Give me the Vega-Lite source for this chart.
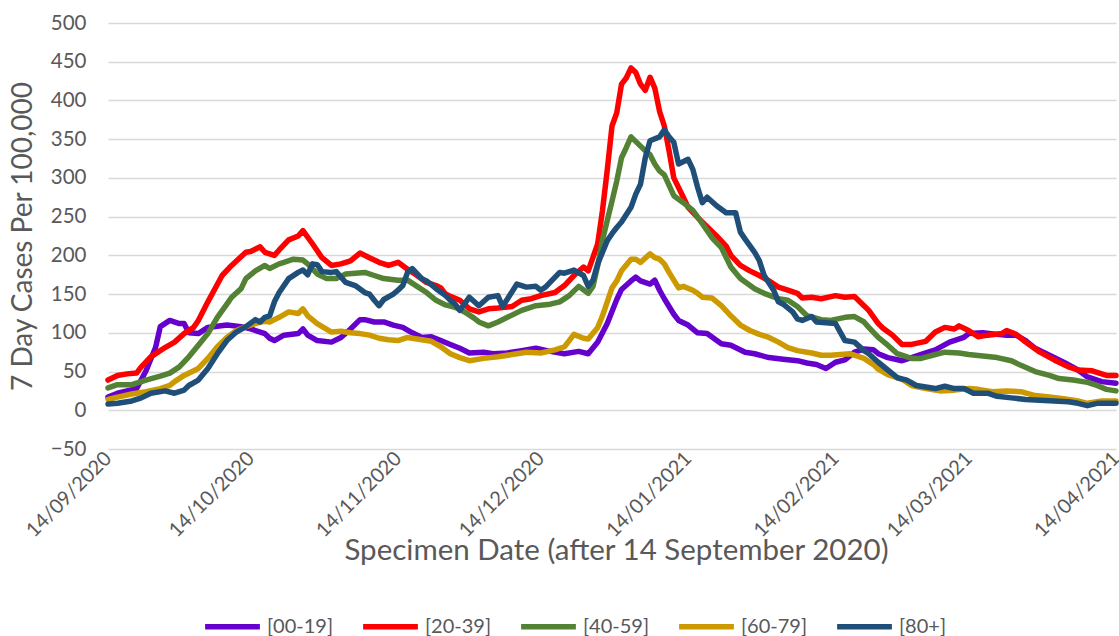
{
"$schema":"https://vega.github.io/schema/vega-lite/v6.json",
"width":1008,"height":426,
"autosize":{"type":"none"},
"padding":{"left":108,"top":23,"right":3,"bottom":187},
"background":"white",
"config":{"view":{"stroke":null},"font":"Lato"},
"data":{"values":[
{"s":"[00-19]","d":"2020-09-14","v":17},{"s":"[00-19]","d":"2020-09-16","v":22},{"s":"[00-19]","d":"2020-09-20","v":28},{"s":"[00-19]","d":"2020-09-22","v":51},{"s":"[00-19]","d":"2020-09-24","v":81},{"s":"[00-19]","d":"2020-09-25","v":108},{"s":"[00-19]","d":"2020-09-27","v":116},{"s":"[00-19]","d":"2020-09-29","v":112},{"s":"[00-19]","d":"2020-09-30","v":112},{"s":"[00-19]","d":"2020-10-01","v":100},{"s":"[00-19]","d":"2020-10-03","v":99},{"s":"[00-19]","d":"2020-10-05","v":107},{"s":"[00-19]","d":"2020-10-09","v":110},{"s":"[00-19]","d":"2020-10-12","v":108},{"s":"[00-19]","d":"2020-10-14","v":105},{"s":"[00-19]","d":"2020-10-17","v":99},{"s":"[00-19]","d":"2020-10-18","v":93},{"s":"[00-19]","d":"2020-10-19","v":90},{"s":"[00-19]","d":"2020-10-21","v":97},{"s":"[00-19]","d":"2020-10-24","v":99},{"s":"[00-19]","d":"2020-10-25","v":105},{"s":"[00-19]","d":"2020-10-26","v":97},{"s":"[00-19]","d":"2020-10-28","v":90},{"s":"[00-19]","d":"2020-10-31","v":88},{"s":"[00-19]","d":"2020-11-02","v":94},{"s":"[00-19]","d":"2020-11-04","v":105},{"s":"[00-19]","d":"2020-11-06","v":117},{"s":"[00-19]","d":"2020-11-07","v":117},{"s":"[00-19]","d":"2020-11-09","v":114},{"s":"[00-19]","d":"2020-11-11","v":114},{"s":"[00-19]","d":"2020-11-13","v":110},{"s":"[00-19]","d":"2020-11-15","v":107},{"s":"[00-19]","d":"2020-11-17","v":100},{"s":"[00-19]","d":"2020-11-19","v":94},{"s":"[00-19]","d":"2020-11-21","v":95},{"s":"[00-19]","d":"2020-11-23","v":90},{"s":"[00-19]","d":"2020-11-25","v":85},{"s":"[00-19]","d":"2020-11-27","v":80},{"s":"[00-19]","d":"2020-11-29","v":74},{"s":"[00-19]","d":"2020-12-02","v":75},{"s":"[00-19]","d":"2020-12-04","v":73},{"s":"[00-19]","d":"2020-12-07","v":74},{"s":"[00-19]","d":"2020-12-10","v":77},{"s":"[00-19]","d":"2020-12-13","v":80},{"s":"[00-19]","d":"2020-12-16","v":76},{"s":"[00-19]","d":"2020-12-19","v":73},{"s":"[00-19]","d":"2020-12-22","v":76},{"s":"[00-19]","d":"2020-12-24","v":73},{"s":"[00-19]","d":"2020-12-26","v":88},{"s":"[00-19]","d":"2020-12-28","v":112},{"s":"[00-19]","d":"2020-12-30","v":143},{"s":"[00-19]","d":"2020-12-31","v":156},{"s":"[00-19]","d":"2021-01-02","v":167},{"s":"[00-19]","d":"2021-01-03","v":172},{"s":"[00-19]","d":"2021-01-04","v":167},{"s":"[00-19]","d":"2021-01-06","v":163},{"s":"[00-19]","d":"2021-01-07","v":168},{"s":"[00-19]","d":"2021-01-08","v":155},{"s":"[00-19]","d":"2021-01-09","v":144},{"s":"[00-19]","d":"2021-01-11","v":124},{"s":"[00-19]","d":"2021-01-12","v":116},{"s":"[00-19]","d":"2021-01-14","v":110},{"s":"[00-19]","d":"2021-01-16","v":100},{"s":"[00-19]","d":"2021-01-18","v":99},{"s":"[00-19]","d":"2021-01-21","v":86},{"s":"[00-19]","d":"2021-01-23","v":84},{"s":"[00-19]","d":"2021-01-26","v":75},{"s":"[00-19]","d":"2021-01-28","v":73},{"s":"[00-19]","d":"2021-01-31","v":68},{"s":"[00-19]","d":"2021-02-03","v":66},{"s":"[00-19]","d":"2021-02-06","v":64},{"s":"[00-19]","d":"2021-02-08","v":61},{"s":"[00-19]","d":"2021-02-10","v":59},{"s":"[00-19]","d":"2021-02-12","v":54},{"s":"[00-19]","d":"2021-02-14","v":62},{"s":"[00-19]","d":"2021-02-16","v":65},{"s":"[00-19]","d":"2021-02-18","v":75},{"s":"[00-19]","d":"2021-02-20","v":79},{"s":"[00-19]","d":"2021-02-22","v":78},{"s":"[00-19]","d":"2021-02-23","v":73},{"s":"[00-19]","d":"2021-02-25","v":68},{"s":"[00-19]","d":"2021-02-28","v":64},{"s":"[00-19]","d":"2021-03-02","v":68},{"s":"[00-19]","d":"2021-03-05","v":74},{"s":"[00-19]","d":"2021-03-07","v":78},{"s":"[00-19]","d":"2021-03-10","v":88},{"s":"[00-19]","d":"2021-03-13","v":94},{"s":"[00-19]","d":"2021-03-14","v":99},{"s":"[00-19]","d":"2021-03-17","v":100},{"s":"[00-19]","d":"2021-03-20","v":98},{"s":"[00-19]","d":"2021-03-22","v":97},{"s":"[00-19]","d":"2021-03-24","v":97},{"s":"[00-19]","d":"2021-03-26","v":90},{"s":"[00-19]","d":"2021-03-28","v":80},{"s":"[00-19]","d":"2021-03-31","v":71},{"s":"[00-19]","d":"2021-04-03","v":62},{"s":"[00-19]","d":"2021-04-06","v":52},{"s":"[00-19]","d":"2021-04-08","v":43},{"s":"[00-19]","d":"2021-04-11","v":37},{"s":"[00-19]","d":"2021-04-14","v":35},
{"s":"[20-39]","d":"2020-09-14","v":39},{"s":"[20-39]","d":"2020-09-16","v":45},{"s":"[20-39]","d":"2020-09-18","v":47},{"s":"[20-39]","d":"2020-09-20","v":48},{"s":"[20-39]","d":"2020-09-21","v":56},{"s":"[20-39]","d":"2020-09-23","v":69},{"s":"[20-39]","d":"2020-09-26","v":81},{"s":"[20-39]","d":"2020-09-28","v":88},{"s":"[20-39]","d":"2020-09-30","v":99},{"s":"[20-39]","d":"2020-10-02","v":107},{"s":"[20-39]","d":"2020-10-03","v":116},{"s":"[20-39]","d":"2020-10-05","v":140},{"s":"[20-39]","d":"2020-10-08","v":174},{"s":"[20-39]","d":"2020-10-10","v":187},{"s":"[20-39]","d":"2020-10-13","v":204},{"s":"[20-39]","d":"2020-10-14","v":205},{"s":"[20-39]","d":"2020-10-16","v":211},{"s":"[20-39]","d":"2020-10-17","v":204},{"s":"[20-39]","d":"2020-10-19","v":200},{"s":"[20-39]","d":"2020-10-20","v":207},{"s":"[20-39]","d":"2020-10-22","v":220},{"s":"[20-39]","d":"2020-10-24","v":225},{"s":"[20-39]","d":"2020-10-25","v":232},{"s":"[20-39]","d":"2020-10-27","v":215},{"s":"[20-39]","d":"2020-10-29","v":197},{"s":"[20-39]","d":"2020-10-31","v":187},{"s":"[20-39]","d":"2020-11-02","v":189},{"s":"[20-39]","d":"2020-11-04","v":193},{"s":"[20-39]","d":"2020-11-06","v":203},{"s":"[20-39]","d":"2020-11-08","v":197},{"s":"[20-39]","d":"2020-11-10","v":191},{"s":"[20-39]","d":"2020-11-12","v":187},{"s":"[20-39]","d":"2020-11-14","v":191},{"s":"[20-39]","d":"2020-11-16","v":182},{"s":"[20-39]","d":"2020-11-18","v":174},{"s":"[20-39]","d":"2020-11-20","v":165},{"s":"[20-39]","d":"2020-11-22","v":161},{"s":"[20-39]","d":"2020-11-23","v":158},{"s":"[20-39]","d":"2020-11-24","v":150},{"s":"[20-39]","d":"2020-11-25","v":147},{"s":"[20-39]","d":"2020-11-27","v":142},{"s":"[20-39]","d":"2020-11-29","v":131},{"s":"[20-39]","d":"2020-12-01","v":127},{"s":"[20-39]","d":"2020-12-03","v":131},{"s":"[20-39]","d":"2020-12-05","v":132},{"s":"[20-39]","d":"2020-12-08","v":134},{"s":"[20-39]","d":"2020-12-10","v":142},{"s":"[20-39]","d":"2020-12-12","v":144},{"s":"[20-39]","d":"2020-12-14","v":148},{"s":"[20-39]","d":"2020-12-17","v":152},{"s":"[20-39]","d":"2020-12-19","v":161},{"s":"[20-39]","d":"2020-12-21","v":174},{"s":"[20-39]","d":"2020-12-23","v":185},{"s":"[20-39]","d":"2020-12-24","v":180},{"s":"[20-39]","d":"2020-12-26","v":215},{"s":"[20-39]","d":"2020-12-27","v":258},{"s":"[20-39]","d":"2020-12-28","v":310},{"s":"[20-39]","d":"2020-12-29","v":367},{"s":"[20-39]","d":"2020-12-30","v":384},{"s":"[20-39]","d":"2020-12-31","v":421},{"s":"[20-39]","d":"2021-01-01","v":429},{"s":"[20-39]","d":"2021-01-02","v":442},{"s":"[20-39]","d":"2021-01-03","v":436},{"s":"[20-39]","d":"2021-01-04","v":421},{"s":"[20-39]","d":"2021-01-05","v":413},{"s":"[20-39]","d":"2021-01-06","v":430},{"s":"[20-39]","d":"2021-01-07","v":416},{"s":"[20-39]","d":"2021-01-08","v":386},{"s":"[20-39]","d":"2021-01-09","v":367},{"s":"[20-39]","d":"2021-01-10","v":335},{"s":"[20-39]","d":"2021-01-11","v":300},{"s":"[20-39]","d":"2021-01-13","v":275},{"s":"[20-39]","d":"2021-01-14","v":262},{"s":"[20-39]","d":"2021-01-16","v":249},{"s":"[20-39]","d":"2021-01-18","v":237},{"s":"[20-39]","d":"2021-01-20","v":225},{"s":"[20-39]","d":"2021-01-22","v":212},{"s":"[20-39]","d":"2021-01-23","v":200},{"s":"[20-39]","d":"2021-01-25","v":187},{"s":"[20-39]","d":"2021-01-27","v":180},{"s":"[20-39]","d":"2021-01-29","v":174},{"s":"[20-39]","d":"2021-01-31","v":167},{"s":"[20-39]","d":"2021-02-02","v":159},{"s":"[20-39]","d":"2021-02-04","v":155},{"s":"[20-39]","d":"2021-02-06","v":151},{"s":"[20-39]","d":"2021-02-07","v":145},{"s":"[20-39]","d":"2021-02-09","v":146},{"s":"[20-39]","d":"2021-02-11","v":144},{"s":"[20-39]","d":"2021-02-14","v":148},{"s":"[20-39]","d":"2021-02-16","v":146},{"s":"[20-39]","d":"2021-02-18","v":147},{"s":"[20-39]","d":"2021-02-20","v":135},{"s":"[20-39]","d":"2021-02-21","v":129},{"s":"[20-39]","d":"2021-02-23","v":112},{"s":"[20-39]","d":"2021-02-24","v":106},{"s":"[20-39]","d":"2021-02-26","v":97},{"s":"[20-39]","d":"2021-02-28","v":85},{"s":"[20-39]","d":"2021-03-02","v":85},{"s":"[20-39]","d":"2021-03-05","v":89},{"s":"[20-39]","d":"2021-03-07","v":101},{"s":"[20-39]","d":"2021-03-09","v":107},{"s":"[20-39]","d":"2021-03-11","v":105},{"s":"[20-39]","d":"2021-03-12","v":109},{"s":"[20-39]","d":"2021-03-14","v":103},{"s":"[20-39]","d":"2021-03-16","v":95},{"s":"[20-39]","d":"2021-03-18","v":97},{"s":"[20-39]","d":"2021-03-21","v":99},{"s":"[20-39]","d":"2021-03-22","v":103},{"s":"[20-39]","d":"2021-03-24","v":98},{"s":"[20-39]","d":"2021-03-26","v":88},{"s":"[20-39]","d":"2021-03-29","v":75},{"s":"[20-39]","d":"2021-04-01","v":65},{"s":"[20-39]","d":"2021-04-04","v":56},{"s":"[20-39]","d":"2021-04-06","v":52},{"s":"[20-39]","d":"2021-04-09","v":51},{"s":"[20-39]","d":"2021-04-12","v":45},{"s":"[20-39]","d":"2021-04-14","v":45},
{"s":"[40-59]","d":"2020-09-14","v":29},{"s":"[40-59]","d":"2020-09-16","v":33},{"s":"[40-59]","d":"2020-09-19","v":33},{"s":"[40-59]","d":"2020-09-22","v":39},{"s":"[40-59]","d":"2020-09-25","v":44},{"s":"[40-59]","d":"2020-09-27","v":48},{"s":"[40-59]","d":"2020-09-29","v":56},{"s":"[40-59]","d":"2020-10-01","v":69},{"s":"[40-59]","d":"2020-10-03","v":84},{"s":"[40-59]","d":"2020-10-05","v":99},{"s":"[40-59]","d":"2020-10-07","v":120},{"s":"[40-59]","d":"2020-10-09","v":137},{"s":"[40-59]","d":"2020-10-10","v":146},{"s":"[40-59]","d":"2020-10-12","v":157},{"s":"[40-59]","d":"2020-10-13","v":170},{"s":"[40-59]","d":"2020-10-15","v":180},{"s":"[40-59]","d":"2020-10-17","v":187},{"s":"[40-59]","d":"2020-10-18","v":183},{"s":"[40-59]","d":"2020-10-20","v":189},{"s":"[40-59]","d":"2020-10-21","v":191},{"s":"[40-59]","d":"2020-10-23","v":195},{"s":"[40-59]","d":"2020-10-25","v":194},{"s":"[40-59]","d":"2020-10-26","v":189},{"s":"[40-59]","d":"2020-10-28","v":176},{"s":"[40-59]","d":"2020-10-30","v":170},{"s":"[40-59]","d":"2020-11-01","v":170},{"s":"[40-59]","d":"2020-11-03","v":176},{"s":"[40-59]","d":"2020-11-05","v":177},{"s":"[40-59]","d":"2020-11-07","v":178},{"s":"[40-59]","d":"2020-11-09","v":174},{"s":"[40-59]","d":"2020-11-11","v":170},{"s":"[40-59]","d":"2020-11-14","v":168},{"s":"[40-59]","d":"2020-11-16","v":168},{"s":"[40-59]","d":"2020-11-18","v":160},{"s":"[40-59]","d":"2020-11-20","v":152},{"s":"[40-59]","d":"2020-11-22","v":142},{"s":"[40-59]","d":"2020-11-24","v":136},{"s":"[40-59]","d":"2020-11-26","v":133},{"s":"[40-59]","d":"2020-11-28","v":127},{"s":"[40-59]","d":"2020-11-30","v":119},{"s":"[40-59]","d":"2020-12-01","v":114},{"s":"[40-59]","d":"2020-12-03","v":109},{"s":"[40-59]","d":"2020-12-05","v":114},{"s":"[40-59]","d":"2020-12-07","v":120},{"s":"[40-59]","d":"2020-12-10","v":129},{"s":"[40-59]","d":"2020-12-13","v":135},{"s":"[40-59]","d":"2020-12-16","v":137},{"s":"[40-59]","d":"2020-12-18","v":140},{"s":"[40-59]","d":"2020-12-20","v":148},{"s":"[40-59]","d":"2020-12-22","v":160},{"s":"[40-59]","d":"2020-12-24","v":151},{"s":"[40-59]","d":"2020-12-25","v":160},{"s":"[40-59]","d":"2020-12-26","v":187},{"s":"[40-59]","d":"2020-12-27","v":220},{"s":"[40-59]","d":"2020-12-28","v":245},{"s":"[40-59]","d":"2020-12-29","v":270},{"s":"[40-59]","d":"2020-12-30","v":296},{"s":"[40-59]","d":"2020-12-31","v":326},{"s":"[40-59]","d":"2021-01-01","v":339},{"s":"[40-59]","d":"2021-01-02","v":353},{"s":"[40-59]","d":"2021-01-04","v":341},{"s":"[40-59]","d":"2021-01-05","v":335},{"s":"[40-59]","d":"2021-01-06","v":330},{"s":"[40-59]","d":"2021-01-07","v":318},{"s":"[40-59]","d":"2021-01-08","v":309},{"s":"[40-59]","d":"2021-01-09","v":304},{"s":"[40-59]","d":"2021-01-11","v":277},{"s":"[40-59]","d":"2021-01-13","v":268},{"s":"[40-59]","d":"2021-01-15","v":258},{"s":"[40-59]","d":"2021-01-17","v":241},{"s":"[40-59]","d":"2021-01-19","v":223},{"s":"[40-59]","d":"2021-01-21","v":210},{"s":"[40-59]","d":"2021-01-23","v":185},{"s":"[40-59]","d":"2021-01-25","v":170},{"s":"[40-59]","d":"2021-01-28","v":157},{"s":"[40-59]","d":"2021-01-30","v":151},{"s":"[40-59]","d":"2021-02-02","v":144},{"s":"[40-59]","d":"2021-02-04","v":142},{"s":"[40-59]","d":"2021-02-06","v":134},{"s":"[40-59]","d":"2021-02-08","v":122},{"s":"[40-59]","d":"2021-02-11","v":117},{"s":"[40-59]","d":"2021-02-13","v":116},{"s":"[40-59]","d":"2021-02-16","v":120},{"s":"[40-59]","d":"2021-02-18","v":121},{"s":"[40-59]","d":"2021-02-20","v":114},{"s":"[40-59]","d":"2021-02-21","v":107},{"s":"[40-59]","d":"2021-02-23","v":94},{"s":"[40-59]","d":"2021-02-25","v":84},{"s":"[40-59]","d":"2021-02-27","v":73},{"s":"[40-59]","d":"2021-03-02","v":67},{"s":"[40-59]","d":"2021-03-04","v":67},{"s":"[40-59]","d":"2021-03-07","v":72},{"s":"[40-59]","d":"2021-03-09","v":75},{"s":"[40-59]","d":"2021-03-12","v":74},{"s":"[40-59]","d":"2021-03-14","v":72},{"s":"[40-59]","d":"2021-03-17","v":70},{"s":"[40-59]","d":"2021-03-20","v":68},{"s":"[40-59]","d":"2021-03-23","v":64},{"s":"[40-59]","d":"2021-03-25","v":58},{"s":"[40-59]","d":"2021-03-28","v":50},{"s":"[40-59]","d":"2021-03-31","v":45},{"s":"[40-59]","d":"2021-04-02","v":41},{"s":"[40-59]","d":"2021-04-05","v":39},{"s":"[40-59]","d":"2021-04-08","v":36},{"s":"[40-59]","d":"2021-04-10","v":32},{"s":"[40-59]","d":"2021-04-12","v":27},{"s":"[40-59]","d":"2021-04-14","v":25},
{"s":"[60-79]","d":"2020-09-14","v":14},{"s":"[60-79]","d":"2020-09-16","v":17},{"s":"[60-79]","d":"2020-09-19","v":21},{"s":"[60-79]","d":"2020-09-22","v":24},{"s":"[60-79]","d":"2020-09-25","v":28},{"s":"[60-79]","d":"2020-09-27","v":32},{"s":"[60-79]","d":"2020-09-28","v":37},{"s":"[60-79]","d":"2020-09-30","v":45},{"s":"[60-79]","d":"2020-10-03","v":54},{"s":"[60-79]","d":"2020-10-05","v":67},{"s":"[60-79]","d":"2020-10-07","v":82},{"s":"[60-79]","d":"2020-10-09","v":94},{"s":"[60-79]","d":"2020-10-11","v":103},{"s":"[60-79]","d":"2020-10-13","v":108},{"s":"[60-79]","d":"2020-10-15","v":112},{"s":"[60-79]","d":"2020-10-17","v":115},{"s":"[60-79]","d":"2020-10-18","v":114},{"s":"[60-79]","d":"2020-10-20","v":120},{"s":"[60-79]","d":"2020-10-22","v":127},{"s":"[60-79]","d":"2020-10-24","v":125},{"s":"[60-79]","d":"2020-10-25","v":131},{"s":"[60-79]","d":"2020-10-26","v":122},{"s":"[60-79]","d":"2020-10-28","v":112},{"s":"[60-79]","d":"2020-10-31","v":101},{"s":"[60-79]","d":"2020-11-02","v":102},{"s":"[60-79]","d":"2020-11-04","v":100},{"s":"[60-79]","d":"2020-11-06","v":99},{"s":"[60-79]","d":"2020-11-08","v":97},{"s":"[60-79]","d":"2020-11-10","v":93},{"s":"[60-79]","d":"2020-11-12","v":91},{"s":"[60-79]","d":"2020-11-14","v":90},{"s":"[60-79]","d":"2020-11-16","v":94},{"s":"[60-79]","d":"2020-11-19","v":91},{"s":"[60-79]","d":"2020-11-21","v":89},{"s":"[60-79]","d":"2020-11-23","v":82},{"s":"[60-79]","d":"2020-11-25","v":73},{"s":"[60-79]","d":"2020-11-27","v":68},{"s":"[60-79]","d":"2020-11-29","v":64},{"s":"[60-79]","d":"2020-12-02","v":67},{"s":"[60-79]","d":"2020-12-05","v":69},{"s":"[60-79]","d":"2020-12-08","v":72},{"s":"[60-79]","d":"2020-12-11","v":75},{"s":"[60-79]","d":"2020-12-14","v":74},{"s":"[60-79]","d":"2020-12-17","v":78},{"s":"[60-79]","d":"2020-12-19","v":82},{"s":"[60-79]","d":"2020-12-20","v":90},{"s":"[60-79]","d":"2020-12-21","v":98},{"s":"[60-79]","d":"2020-12-23","v":93},{"s":"[60-79]","d":"2020-12-24","v":92},{"s":"[60-79]","d":"2020-12-26","v":107},{"s":"[60-79]","d":"2020-12-27","v":122},{"s":"[60-79]","d":"2020-12-28","v":140},{"s":"[60-79]","d":"2020-12-29","v":158},{"s":"[60-79]","d":"2020-12-30","v":167},{"s":"[60-79]","d":"2020-12-31","v":180},{"s":"[60-79]","d":"2021-01-02","v":195},{"s":"[60-79]","d":"2021-01-03","v":195},{"s":"[60-79]","d":"2021-01-04","v":191},{"s":"[60-79]","d":"2021-01-06","v":202},{"s":"[60-79]","d":"2021-01-07","v":197},{"s":"[60-79]","d":"2021-01-08","v":195},{"s":"[60-79]","d":"2021-01-09","v":189},{"s":"[60-79]","d":"2021-01-10","v":178},{"s":"[60-79]","d":"2021-01-12","v":158},{"s":"[60-79]","d":"2021-01-13","v":160},{"s":"[60-79]","d":"2021-01-15","v":155},{"s":"[60-79]","d":"2021-01-16","v":151},{"s":"[60-79]","d":"2021-01-17","v":146},{"s":"[60-79]","d":"2021-01-19","v":145},{"s":"[60-79]","d":"2021-01-21","v":135},{"s":"[60-79]","d":"2021-01-23","v":122},{"s":"[60-79]","d":"2021-01-25","v":110},{"s":"[60-79]","d":"2021-01-27","v":103},{"s":"[60-79]","d":"2021-01-29","v":98},{"s":"[60-79]","d":"2021-01-31","v":94},{"s":"[60-79]","d":"2021-02-02","v":88},{"s":"[60-79]","d":"2021-02-04","v":81},{"s":"[60-79]","d":"2021-02-06","v":77},{"s":"[60-79]","d":"2021-02-09","v":74},{"s":"[60-79]","d":"2021-02-11","v":71},{"s":"[60-79]","d":"2021-02-13","v":71},{"s":"[60-79]","d":"2021-02-15","v":72},{"s":"[60-79]","d":"2021-02-17","v":73},{"s":"[60-79]","d":"2021-02-20","v":67},{"s":"[60-79]","d":"2021-02-22","v":59},{"s":"[60-79]","d":"2021-02-23","v":53},{"s":"[60-79]","d":"2021-02-25","v":46},{"s":"[60-79]","d":"2021-02-28","v":40},{"s":"[60-79]","d":"2021-03-02","v":32},{"s":"[60-79]","d":"2021-03-05","v":28},{"s":"[60-79]","d":"2021-03-08","v":25},{"s":"[60-79]","d":"2021-03-11","v":26},{"s":"[60-79]","d":"2021-03-14","v":28},{"s":"[60-79]","d":"2021-03-16","v":27},{"s":"[60-79]","d":"2021-03-19","v":24},{"s":"[60-79]","d":"2021-03-22","v":25},{"s":"[60-79]","d":"2021-03-25","v":24},{"s":"[60-79]","d":"2021-03-28","v":19},{"s":"[60-79]","d":"2021-03-31","v":17},{"s":"[60-79]","d":"2021-04-03","v":15},{"s":"[60-79]","d":"2021-04-06","v":12},{"s":"[60-79]","d":"2021-04-08","v":9},{"s":"[60-79]","d":"2021-04-11","v":12},{"s":"[60-79]","d":"2021-04-14","v":12},
{"s":"[80+]","d":"2020-09-14","v":8},{"s":"[80+]","d":"2020-09-16","v":9},{"s":"[80+]","d":"2020-09-19","v":12},{"s":"[80+]","d":"2020-09-21","v":16},{"s":"[80+]","d":"2020-09-23","v":22},{"s":"[80+]","d":"2020-09-26","v":25},{"s":"[80+]","d":"2020-09-28","v":22},{"s":"[80+]","d":"2020-09-30","v":26},{"s":"[80+]","d":"2020-10-01","v":32},{"s":"[80+]","d":"2020-10-03","v":39},{"s":"[80+]","d":"2020-10-05","v":54},{"s":"[80+]","d":"2020-10-07","v":73},{"s":"[80+]","d":"2020-10-09","v":90},{"s":"[80+]","d":"2020-10-11","v":101},{"s":"[80+]","d":"2020-10-13","v":108},{"s":"[80+]","d":"2020-10-15","v":117},{"s":"[80+]","d":"2020-10-16","v":114},{"s":"[80+]","d":"2020-10-17","v":120},{"s":"[80+]","d":"2020-10-18","v":122},{"s":"[80+]","d":"2020-10-19","v":140},{"s":"[80+]","d":"2020-10-20","v":152},{"s":"[80+]","d":"2020-10-22","v":170},{"s":"[80+]","d":"2020-10-24","v":178},{"s":"[80+]","d":"2020-10-25","v":181},{"s":"[80+]","d":"2020-10-26","v":175},{"s":"[80+]","d":"2020-10-27","v":189},{"s":"[80+]","d":"2020-10-28","v":188},{"s":"[80+]","d":"2020-10-29","v":179},{"s":"[80+]","d":"2020-10-31","v":178},{"s":"[80+]","d":"2020-11-01","v":179},{"s":"[80+]","d":"2020-11-03","v":165},{"s":"[80+]","d":"2020-11-05","v":161},{"s":"[80+]","d":"2020-11-07","v":152},{"s":"[80+]","d":"2020-11-08","v":150},{"s":"[80+]","d":"2020-11-09","v":142},{"s":"[80+]","d":"2020-11-10","v":135},{"s":"[80+]","d":"2020-11-11","v":143},{"s":"[80+]","d":"2020-11-13","v":150},{"s":"[80+]","d":"2020-11-14","v":155},{"s":"[80+]","d":"2020-11-15","v":161},{"s":"[80+]","d":"2020-11-16","v":178},{"s":"[80+]","d":"2020-11-17","v":183},{"s":"[80+]","d":"2020-11-19","v":170},{"s":"[80+]","d":"2020-11-20","v":167},{"s":"[80+]","d":"2020-11-22","v":157},{"s":"[80+]","d":"2020-11-24","v":148},{"s":"[80+]","d":"2020-11-25","v":142},{"s":"[80+]","d":"2020-11-26","v":137},{"s":"[80+]","d":"2020-11-27","v":129},{"s":"[80+]","d":"2020-11-29","v":146},{"s":"[80+]","d":"2020-12-01","v":135},{"s":"[80+]","d":"2020-12-03","v":146},{"s":"[80+]","d":"2020-12-05","v":148},{"s":"[80+]","d":"2020-12-06","v":134},{"s":"[80+]","d":"2020-12-09","v":163},{"s":"[80+]","d":"2020-12-11","v":159},{"s":"[80+]","d":"2020-12-13","v":160},{"s":"[80+]","d":"2020-12-14","v":155},{"s":"[80+]","d":"2020-12-15","v":159},{"s":"[80+]","d":"2020-12-18","v":178},{"s":"[80+]","d":"2020-12-19","v":177},{"s":"[80+]","d":"2020-12-21","v":181},{"s":"[80+]","d":"2020-12-23","v":174},{"s":"[80+]","d":"2020-12-24","v":160},{"s":"[80+]","d":"2020-12-25","v":168},{"s":"[80+]","d":"2020-12-26","v":189},{"s":"[80+]","d":"2020-12-28","v":219},{"s":"[80+]","d":"2020-12-29","v":228},{"s":"[80+]","d":"2020-12-30","v":236},{"s":"[80+]","d":"2020-12-31","v":243},{"s":"[80+]","d":"2021-01-02","v":262},{"s":"[80+]","d":"2021-01-03","v":279},{"s":"[80+]","d":"2021-01-04","v":292},{"s":"[80+]","d":"2021-01-05","v":326},{"s":"[80+]","d":"2021-01-06","v":348},{"s":"[80+]","d":"2021-01-08","v":353},{"s":"[80+]","d":"2021-01-09","v":362},{"s":"[80+]","d":"2021-01-10","v":353},{"s":"[80+]","d":"2021-01-11","v":346},{"s":"[80+]","d":"2021-01-12","v":318},{"s":"[80+]","d":"2021-01-14","v":324},{"s":"[80+]","d":"2021-01-15","v":311},{"s":"[80+]","d":"2021-01-16","v":288},{"s":"[80+]","d":"2021-01-17","v":268},{"s":"[80+]","d":"2021-01-18","v":275},{"s":"[80+]","d":"2021-01-20","v":264},{"s":"[80+]","d":"2021-01-22","v":255},{"s":"[80+]","d":"2021-01-24","v":255},{"s":"[80+]","d":"2021-01-25","v":230},{"s":"[80+]","d":"2021-01-26","v":221},{"s":"[80+]","d":"2021-01-28","v":204},{"s":"[80+]","d":"2021-01-29","v":193},{"s":"[80+]","d":"2021-01-30","v":174},{"s":"[80+]","d":"2021-02-01","v":155},{"s":"[80+]","d":"2021-02-02","v":140},{"s":"[80+]","d":"2021-02-03","v":137},{"s":"[80+]","d":"2021-02-05","v":127},{"s":"[80+]","d":"2021-02-06","v":118},{"s":"[80+]","d":"2021-02-07","v":116},{"s":"[80+]","d":"2021-02-09","v":121},{"s":"[80+]","d":"2021-02-10","v":114},{"s":"[80+]","d":"2021-02-12","v":113},{"s":"[80+]","d":"2021-02-14","v":112},{"s":"[80+]","d":"2021-02-15","v":101},{"s":"[80+]","d":"2021-02-16","v":90},{"s":"[80+]","d":"2021-02-18","v":88},{"s":"[80+]","d":"2021-02-20","v":77},{"s":"[80+]","d":"2021-02-21","v":73},{"s":"[80+]","d":"2021-02-23","v":62},{"s":"[80+]","d":"2021-02-25","v":52},{"s":"[80+]","d":"2021-02-27","v":42},{"s":"[80+]","d":"2021-03-01","v":39},{"s":"[80+]","d":"2021-03-03","v":32},{"s":"[80+]","d":"2021-03-05","v":30},{"s":"[80+]","d":"2021-03-07","v":28},{"s":"[80+]","d":"2021-03-09","v":31},{"s":"[80+]","d":"2021-03-11","v":28},{"s":"[80+]","d":"2021-03-13","v":28},{"s":"[80+]","d":"2021-03-15","v":22},{"s":"[80+]","d":"2021-03-18","v":22},{"s":"[80+]","d":"2021-03-20","v":18},{"s":"[80+]","d":"2021-03-23","v":16},{"s":"[80+]","d":"2021-03-26","v":14},{"s":"[80+]","d":"2021-03-29","v":13},{"s":"[80+]","d":"2021-04-01","v":12},{"s":"[80+]","d":"2021-04-04","v":11},{"s":"[80+]","d":"2021-04-06","v":9},{"s":"[80+]","d":"2021-04-08","v":6},{"s":"[80+]","d":"2021-04-10","v":9},{"s":"[80+]","d":"2021-04-14","v":9}
]},
"mark":{"type":"line","strokeWidth":5.5,"strokeJoin":"round","strokeCap":"round"},
"encoding":{
"x":{"field":"d","type":"temporal",
"scale":{"type":"utc","domain":[{"year":2020,"month":9,"date":14,"utc":true},{"year":2021,"month":4,"date":14,"utc":true}],"nice":false},
"axis":{"values":[{"year":2020,"month":9,"date":14,"utc":true},{"year":2020,"month":10,"date":14,"utc":true},{"year":2020,"month":11,"date":14,"utc":true},{"year":2020,"month":12,"date":14,"utc":true},{"year":2021,"month":1,"date":14,"utc":true},{"year":2021,"month":2,"date":14,"utc":true},{"year":2021,"month":3,"date":14,"utc":true},{"year":2021,"month":4,"date":14,"utc":true}],
"format":"%d/%m/%Y","labelAngle":-45,"labelAlign":"right","labelBaseline":"middle","labelFontSize":20,"labelColor":"#595959","labelPadding":6,"labelDx":-8,"labelFlush":false,"labelOverlap":false,"labelBound":false,
"domain":false,"ticks":false,"grid":false,
"title":"Specimen Date (after 14 September 2020)","titleFontSize":29.5,"titleColor":"#595959","titleFontWeight":"normal","titleY":101,"titleX":508,"titleBaseline":"middle"}},
"y":{"field":"v","type":"quantitative",
"scale":{"domain":[-50,500],"nice":false,"zero":false},
"axis":{"values":[-50,0,50,100,150,200,250,300,350,400,450,500],"grid":true,"gridColor":"#D9D9D9","gridWidth":1.5,"domain":false,"ticks":false,"labelFontSize":20.5,"labelColor":"#595959","labelPadding":22,
"title":"7 Day Cases Per 100,000","titleFontSize":28,"titleColor":"#595959","titleFontWeight":"normal","titleX":-85,"titleBaseline":"middle"}},
"color":{"field":"s","type":"nominal",
"scale":{"domain":["[00-19]","[20-39]","[40-59]","[60-79]","[80+]"],"range":["#6600CC","#FF0000","#548235","#CC9900","#1F4E79"]},
"legend":{"orient":"none","legendX":94,"legendY":573,"direction":"horizontal","title":null,"symbolType":"stroke","symbolSize":3000,"symbolStrokeWidth":5.5,"labelFontSize":20,"labelColor":"#595959","labelOffset":4,"columnPadding":18,"padding":0}}
}
}
